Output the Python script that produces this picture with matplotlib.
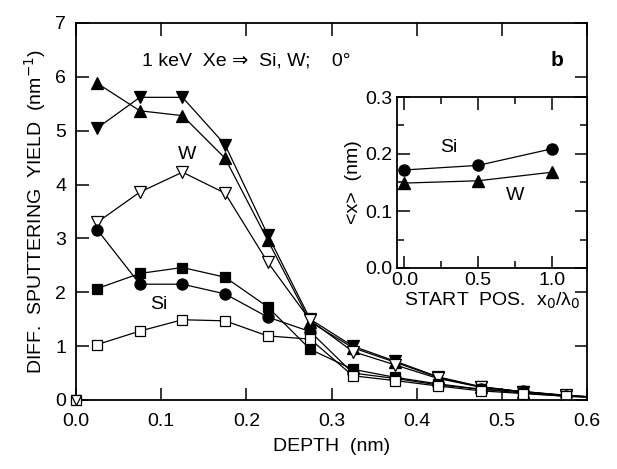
import matplotlib
matplotlib.use("Agg")
import matplotlib.pyplot as plt
from matplotlib.ticker import MultipleLocator

plt.rcParams['font.family'] = ['Liberation Sans', 'DejaVu Sans']

depth = [0.025, 0.075, 0.125, 0.175, 0.225, 0.275, 0.325, 0.375, 0.425, 0.475, 0.525, 0.575, 0.625]
w_up_filled = [5.88, 5.37, 5.28, 4.49, 2.97, 1.45, 0.97, 0.70, 0.42, 0.24, 0.15, 0.08, 0.04]
w_down_filled = [5.05, 5.62, 5.62, 4.74, 3.07, 1.50, 1.00, 0.72, 0.43, 0.25, 0.15, 0.08, 0.04]
w_down_open = [3.30, 3.86, 4.23, 3.84, 2.56, 1.48, 0.90, 0.65, 0.40, 0.24, 0.155, 0.09, 0.04]
si_sq_filled = [2.07, 2.35, 2.46, 2.28, 1.73, 0.94, 0.57, 0.42, 0.30, 0.20, 0.13, 0.07, 0.04]
si_circle = [3.16, 2.15, 2.15, 1.97, 1.54, 1.27, 0.50, 0.40, 0.28, 0.20, 0.16, 0.08, 0.04]
si_sq_open = [1.03, 1.28, 1.49, 1.47, 1.19, 1.13, 0.45, 0.36, 0.26, 0.17, 0.12, 0.07, 0.04]
origin_x = [0.0]
origin_y = [0.0]

start_pos = [0.0, 0.5, 1.0]
inset_si = [0.172, 0.180, 0.209]
inset_w = [0.149, 0.153, 0.168]

FS = 14

fig = plt.figure(figsize=(6.17, 4.69), dpi=100)
W, H = 617, 469
ax = fig.add_axes([76 / W, 1 - 400 / H, (587 - 76) / W, (400 - 23) / H])

lw = 0.9
series = [
    (w_up_filled, '^', 'black', 8),
    (w_down_filled, 'v', 'black', 8),
    (w_down_open, 'v', 'white', 8),
    (si_sq_filled, 's', 'black', 6.5),
    (si_circle, 'o', 'black', 8),
    (si_sq_open, 's', 'white', 6.5),
]
for ys, m, fc, ms in series:
    ax.plot(depth, ys, color='black', lw=lw, marker=m, mfc=fc, mec='black',
            ms=ms, mew=0.9)
for m, fc in [('o', 'white'), ('s', 'white'), ('v', 'white')]:
    ax.plot(origin_x, origin_y, ls='none', marker=m, mfc=fc, mec='black',
            ms=7, mew=0.9, clip_on=False, zorder=5)

ax.set_xlim(0, 0.6)
ax.set_ylim(0, 7)
ax.yaxis.set_major_locator(MultipleLocator(1))
ax.set_xticks([0.0, 0.1, 0.2, 0.3, 0.4, 0.5, 0.6])
ax.set_xticklabels(['0.0', '0.1', '0.2', '0.3', '0.4', '0.5', '0.6'])
ax.tick_params(direction='in', length=9, width=1.1, top=True, right=True,
               labelsize=FS)
ax.tick_params(axis='x', pad=9)
ax.tick_params(axis='y', pad=7)
for s in ax.spines.values():
    s.set_linewidth(1.3)
ax.set_xlabel('DEPTH  (nm)', fontsize=FS, labelpad=6)
ax.set_ylabel('DIFF.  SPUTTERING  YIELD  (nm$^{-1}$)', fontsize=FS, labelpad=5)

ax.text(0.078, 6.3, '1 keV  Xe \u21d2  Si, W;    0°', fontsize=FS, va='center', ha='left')
ax.text(0.565, 6.3, 'b', fontsize=FS + 1, fontweight='bold', va='center', ha='center')
ax.text(0.130, 4.55, 'W', fontsize=FS, va='center', ha='center')
ax.text(0.097, 1.78, 'Si', fontsize=FS, va='center', ha='center')

ins = fig.add_axes([397 / W, 1 - 268 / H, (587 - 397) / W, (268 - 97) / H])
ins.plot(start_pos, inset_si, color='black', lw=lw, marker='o', ms=8, mfc='black')
ins.plot(start_pos, inset_w, color='black', lw=lw, marker='^', ms=8, mfc='black')
ins.set_xlim(-0.05, 1.24)
ins.set_ylim(0, 0.3)
ins.xaxis.set_minor_locator(MultipleLocator(0.25))
ins.yaxis.set_minor_locator(MultipleLocator(0.05))
ins.set_xticks([0.0, 0.5, 1.0])
ins.set_xticklabels(['0.0', '0.5', '1.0'])
ins.set_yticks([0.0, 0.1, 0.2, 0.3])
ins.set_yticklabels(['0.0', '0.1', '0.2', '0.3'])
ins.tick_params(which='major', direction='in', length=9, width=1.1, top=True,
                right=True, labelsize=FS, pad=3)
ins.tick_params(which='minor', direction='in', length=5, width=1.1, top=True, right=True)
for s in ins.spines.values():
    s.set_linewidth(1.3)
ins.set_xlabel('START  POS.  x$_0$/\u03bb$_0$', fontsize=FS, labelpad=1)
ins.set_ylabel('<x>  (nm)', fontsize=FS, labelpad=3)
ins.text(0.3, 0.212, 'Si', fontsize=FS, va='center', ha='center')
ins.text(0.75, 0.128, 'W', fontsize=FS, va='center', ha='center')

fig.savefig('out.png', dpi=100)
